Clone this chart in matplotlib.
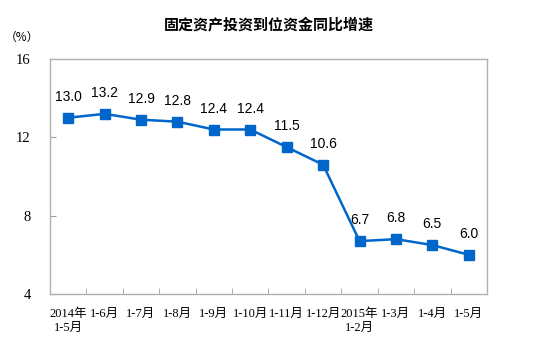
import matplotlib
matplotlib.use("Agg")
import matplotlib.pyplot as plt
from matplotlib.ticker import FixedLocator

categories = ["2014年\n1-5月", "1-6月", "1-7月", "1-8月", "1-9月", "1-10月",
              "1-11月", "1-12月", "2015年\n1-2月", "1-3月", "1-4月", "1-5月"]
values = [13.0, 13.2, 12.9, 12.8, 12.4, 12.4, 11.5, 10.6, 6.7, 6.8, 6.5, 6.0]
yticks = [4, 8, 12, 16]

fig = plt.figure(figsize=(5.53, 3.59), dpi=100)
ax = fig.add_axes([50/553, 1-294/359, (487-50)/553, (294-59)/359])

line_color = "#0066CC"
x = list(range(len(values)))
ax.plot(x, values, color=line_color, lw=1.8, marker="s", ms=6.5, zorder=3)

for xi, v in zip(x, values):
    ax.annotate(f"{v:.1f}", (xi, v), xytext=(0, 10), textcoords="offset points",
                ha="center", va="bottom", fontsize=10, family=["Liberation Sans"],
                color="#000000")

ax.set_xlim(-0.5, len(values) - 0.5)
ax.set_ylim(4, 16)
ax.set_yticks(yticks)
ax.set_yticklabels([str(t) for t in yticks], family=["Liberation Serif"], fontsize=10.5)

ax.set_xticks(x)
ax.set_xticklabels(categories, family=["Liberation Serif", "Noto Sans CJK SC"], fontsize=9,
                   linespacing=1.25)
ax.xaxis.set_minor_locator(FixedLocator([i + 0.5 for i in range(len(values) - 1)]))
ax.tick_params(axis="x", which="major", length=0, pad=10)
ax.tick_params(axis="x", which="minor", length=4, direction="in", color="#A0A0A0")
for lab in ax.get_xticklabels():
    lab.set_verticalalignment("top")
ax.tick_params(axis="y", length=4, direction="in", color="#A0A0A0", pad=14)

for s in ax.spines.values():
    s.set_color("#B0B0B0")
    s.set_linewidth(1)

fig.text(269/553, 1-25/359, "固定资产投资到位资金同比增速", ha="center", va="center",
         fontsize=10.8, family=["Noto Sans CJK SC"], fontweight="bold")
fig.text(22/553, 1-37/359, "（%）", ha="center", va="center", fontsize=8.5,
         family=["Noto Sans CJK SC"])

fig.savefig("out.png", dpi=100)
